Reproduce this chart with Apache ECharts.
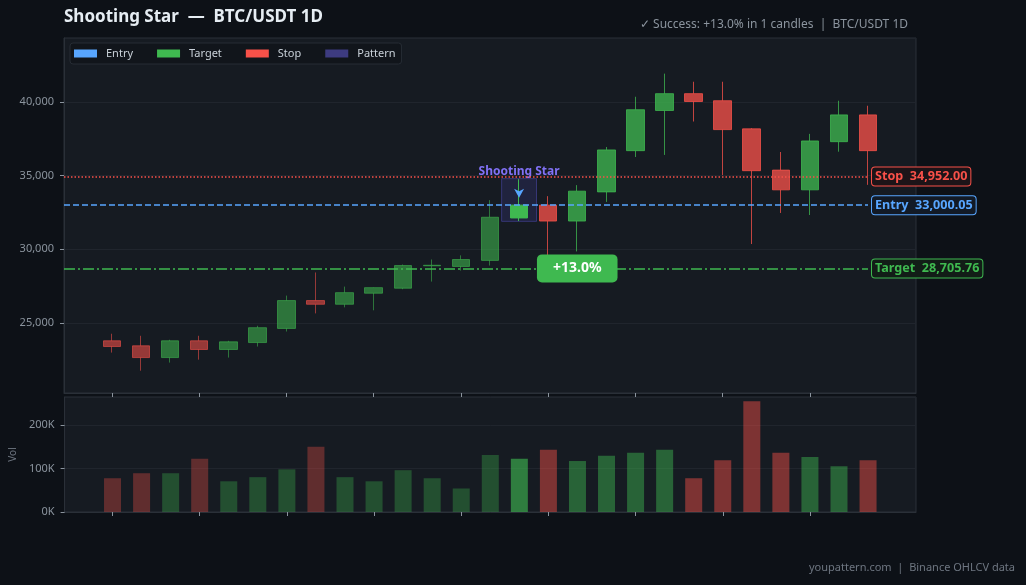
<!DOCTYPE html>
<html>
<head>
<meta charset="utf-8">
<title>Shooting Star - BTC/USDT 1D</title>
<script src="https://cdn.jsdelivr.net/npm/echarts@6.0.0/dist/echarts.min.js"></script>
<style>
  html, body { margin: 0; padding: 0; background: #0d1117; }
  #chart { width: 1026px; height: 585px; }
</style>
</head>
<body>
<div id="chart"></div>
<script>
// daily candles
var opens  = [23790, 23450, 22650, 23790, 23200, 23670, 24630, 26520, 26270, 27020, 27360, 28880, 28840, 29250,
              32130, 33000, 31920, 33900, 36700, 39430, 40570, 40090, 38180, 35380, 34040, 37310, 39130];
var closes = [23400, 22650, 23790, 23200, 23720, 24680, 26520, 26270, 27060, 27400, 28900, 28920, 29310, 32180,
              33000, 31920, 33950, 36750, 39480, 40570, 40040, 38130, 35340, 34040, 37360, 39130, 36700];
var lows   = [22990, 21760, 22310, 22510, 22650, 23400, 24420, 25650, 26060, 25860, 27290, 27810, 28560, 28900,
              31920, 28600, 29860, 33220, 36270, 36410, 38680, 35040, 30360, 32470, 32330, 36630, 34380];
var highs  = [24270, 24130, 23860, 24130, 23790, 24810, 26860, 28430, 27470, 27420, 28970, 29310, 29590, 33340,
              34770, 33610, 34360, 36950, 40360, 41930, 41380, 41380, 38230, 36610, 37840, 40090, 39750];
var volumes = [77500, 89000, 89000, 122000, 70500, 80000, 98000, 150000, 80000, 70500, 96000, 77500, 54000, 131000,
               122000, 143000, 117000, 129000, 136000, 143000, 77500, 119000, 254000, 136000, 126000, 105000, 119000];

var tickIdx = [0, 3, 6, 9, 12, 15, 18, 21, 24];

var PATTERN_IDX = 14;
var ENTRY = 33000.05;
var STOP = 34952.00;
var TARGET = 28705.76;

var X_MIN = -1.65;
var X_MAX = opens.length - 1 + 1.65;

var UP = '#3fb950';
var DOWN = '#f85149';

function fmt(v) {
  return v.toLocaleString('en-US', { minimumFractionDigits: 2, maximumFractionDigits: 2 });
}

var candleData = opens.map(function (o, i) {
  var col = closes[i] >= o ? UP : DOWN;
  var op = i === PATTERN_IDX ? 1 : (i < PATTERN_IDX ? 0.57 : 0.76);
  return {
    value: [i, o, closes[i], lows[i], highs[i]],
    itemStyle: { color: col, color0: col, borderColor: col, borderColor0: col, opacity: op }
  };
});

var volData = volumes.map(function (v, i) {
  var col = closes[i] >= opens[i] ? UP : DOWN;
  var op = i === PATTERN_IDX ? 0.62 : (i < PATTERN_IDX ? 0.33 : 0.46);
  return { value: [i, v], itemStyle: { color: col, opacity: op } };
});

function levelLine(name, value, color, type, bg) {
  return {
    name: name,
    type: 'line',
    xAxisIndex: 0,
    yAxisIndex: 0,
    data: [],
    itemStyle: { color: color },
    lineStyle: { color: color },
    markLine: {
      silent: true,
      symbol: 'none',
      animation: false,
      lineStyle: { color: color, type: type, width: 1.5 },
      label: {
        show: true,
        position: 'end',
        distance: 4,
        formatter: name + '  ' + fmt(value),
        color: color,
        fontSize: 12.6,
        fontWeight: 'bold',
        backgroundColor: bg,
        borderColor: color,
        borderWidth: 1,
        borderRadius: 3,
        padding: [3, 3, 2, 3]
      },
      data: [[{ coord: [X_MIN, value] }, { coord: [opens.length - 1, value] }]]
    }
  };
}

var myChart = echarts.init(document.getElementById('chart'));

var option = {
  backgroundColor: '#0d1117',
  animation: false,
  textStyle: { fontFamily: 'Noto Sans' },
  title: [
    {
      text: 'Shooting Star  \u2014  BTC/USDT 1D',
      left: 59,
      top: 4,
      textStyle: { color: '#e6edf3', fontSize: 17, fontWeight: 'bold' }
    },
    {
      text: '\u2713 Success: +13.0% in 1 candles  |  BTC/USDT 1D',
      right: 113,
      top: 14,
      textStyle: { color: '#8b949e', fontSize: 12, fontWeight: 'normal' }
    },
    {
      text: 'youpattern.com  |  Binance OHLCV data',
      right: 6,
      top: 557,
      textStyle: { color: '#6e7681', fontSize: 11, fontWeight: 'normal' }
    }
  ],
  legend: {
    data: ['Entry', 'Target', 'Stop', 'Pattern'],
    left: 70,
    top: 43,
    icon: 'rect',
    itemWidth: 23,
    itemHeight: 8,
    itemGap: 24,
    padding: [5, 6, 5, 4],
    backgroundColor: '#11151b',
    borderColor: '#262c34',
    borderWidth: 1,
    borderRadius: 3,
    textStyle: { color: '#c9d1d9', fontSize: 11, padding: [0, 0, 0, 4] }
  },
  grid: [
    { left: 64, right: 110, top: 38, height: 355, show: true, backgroundColor: '#161b22', borderColor: '#2a3038', borderWidth: 1 },
    { left: 64, right: 110, top: 397, height: 115, show: true, backgroundColor: '#161b22', borderColor: '#2a3038', borderWidth: 1 }
  ],
  xAxis: [
    {
      type: 'value', gridIndex: 0, min: X_MIN, max: X_MAX,
      axisLine: { show: true, onZero: false, lineStyle: { color: '#2a3038' } },
      axisTick: { show: true, customValues: tickIdx, length: 4, lineStyle: { color: '#8b949e' } },
      axisLabel: { show: false },
      splitLine: { show: false }
    },
    {
      type: 'value', gridIndex: 1, min: X_MIN, max: X_MAX,
      axisLine: { show: true, onZero: false, lineStyle: { color: '#2a3038' } },
      axisTick: { show: true, customValues: tickIdx, length: 4, lineStyle: { color: '#8b949e' } },
      axisLabel: { show: false },
      splitLine: { show: false }
    }
  ],
  yAxis: [
    {
      type: 'value', gridIndex: 0, min: 20245, max: 44350, splitNumber: 5,
      axisLine: { show: true, onZero: false, lineStyle: { color: '#2a3038' } },
      axisTick: { show: true, length: 4, lineStyle: { color: '#8b949e' } },
      axisLabel: { color: '#8b949e', fontSize: 11, margin: 10, showMinLabel: false, showMaxLabel: false },
      splitLine: { lineStyle: { color: '#20252d' } }
    },
    {
      type: 'value', gridIndex: 1, min: 0, max: 264000, interval: 100000,
      name: 'Vol', nameLocation: 'middle', nameGap: 40,
      nameTextStyle: { color: '#6e7681', fontSize: 10 },
      axisLine: { show: true, onZero: false, lineStyle: { color: '#2a3038' } },
      axisTick: { show: true, length: 4, lineStyle: { color: '#8b949e' } },
      axisLabel: {
        color: '#8b949e', fontSize: 11, margin: 10, showMaxLabel: false,
        formatter: function (v) { return (v / 1000) + 'K'; }
      },
      splitLine: { lineStyle: { color: '#20252d' } }
    }
  ],
  series: [
    {
      name: 'Pattern',
      type: 'line',
      xAxisIndex: 0,
      yAxisIndex: 0,
      z: 1,
      data: [],
      itemStyle: { color: '#3d3b80' },
      markArea: {
        silent: true,
        itemStyle: { color: 'rgba(99, 91, 255, 0.13)', borderColor: 'rgba(110, 100, 255, 0.35)', borderWidth: 1 },
        label: { show: true, position: 'top', distance: 1, color: '#8171f5', fontSize: 12, fontWeight: 'bold' },
        data: [[
          { name: 'Shooting Star', coord: [PATTERN_IDX - 0.6, 34800] },
          { coord: [PATTERN_IDX + 0.6, 31900] }
        ]]
      }
    },
    {
      name: 'BTC/USDT',
      type: 'candlestick',
      xAxisIndex: 0,
      yAxisIndex: 0,
      barWidth: 18,
      data: candleData,
      markPoint: {
        silent: true,
        data: [
          {
            coord: [PATTERN_IDX, 33814],
            symbol: 'path://M0,0 L5,2.5 L10,0 L5,9 Z', symbolSize: [10, 9],
            itemStyle: { color: '#58a6ff' },
            label: { show: false }
          }
        ]
      }
    },
    {
      name: 'Volume',
      type: 'bar',
      xAxisIndex: 1,
      yAxisIndex: 1,
      barWidth: 17,
      data: volData
    },
    levelLine('Entry', ENTRY, '#58a6ff', [6, 3], '#121a26'),
    levelLine('Target', TARGET, '#3fb950', [11, 3, 2, 3], '#121d17'),
    (function () {
      var s = levelLine('Stop', STOP, '#f85149', [1.5, 2], '#1d1418');
      s.markPoint = {
        silent: true,
        symbolSize: 0,
        data: [{ coord: [16, TARGET] }],
        label: {
          show: true,
          position: 'inside',
          formatter: '+13.0%',
          color: '#ffffff',
          fontSize: 14,
          fontWeight: 'bold',
          backgroundColor: '#3fb950',
          borderRadius: 5,
          padding: [7, 16]
        }
      };
      return s;
    })()
  ]
};

myChart.setOption(option);
</script>
</body>
</html>
